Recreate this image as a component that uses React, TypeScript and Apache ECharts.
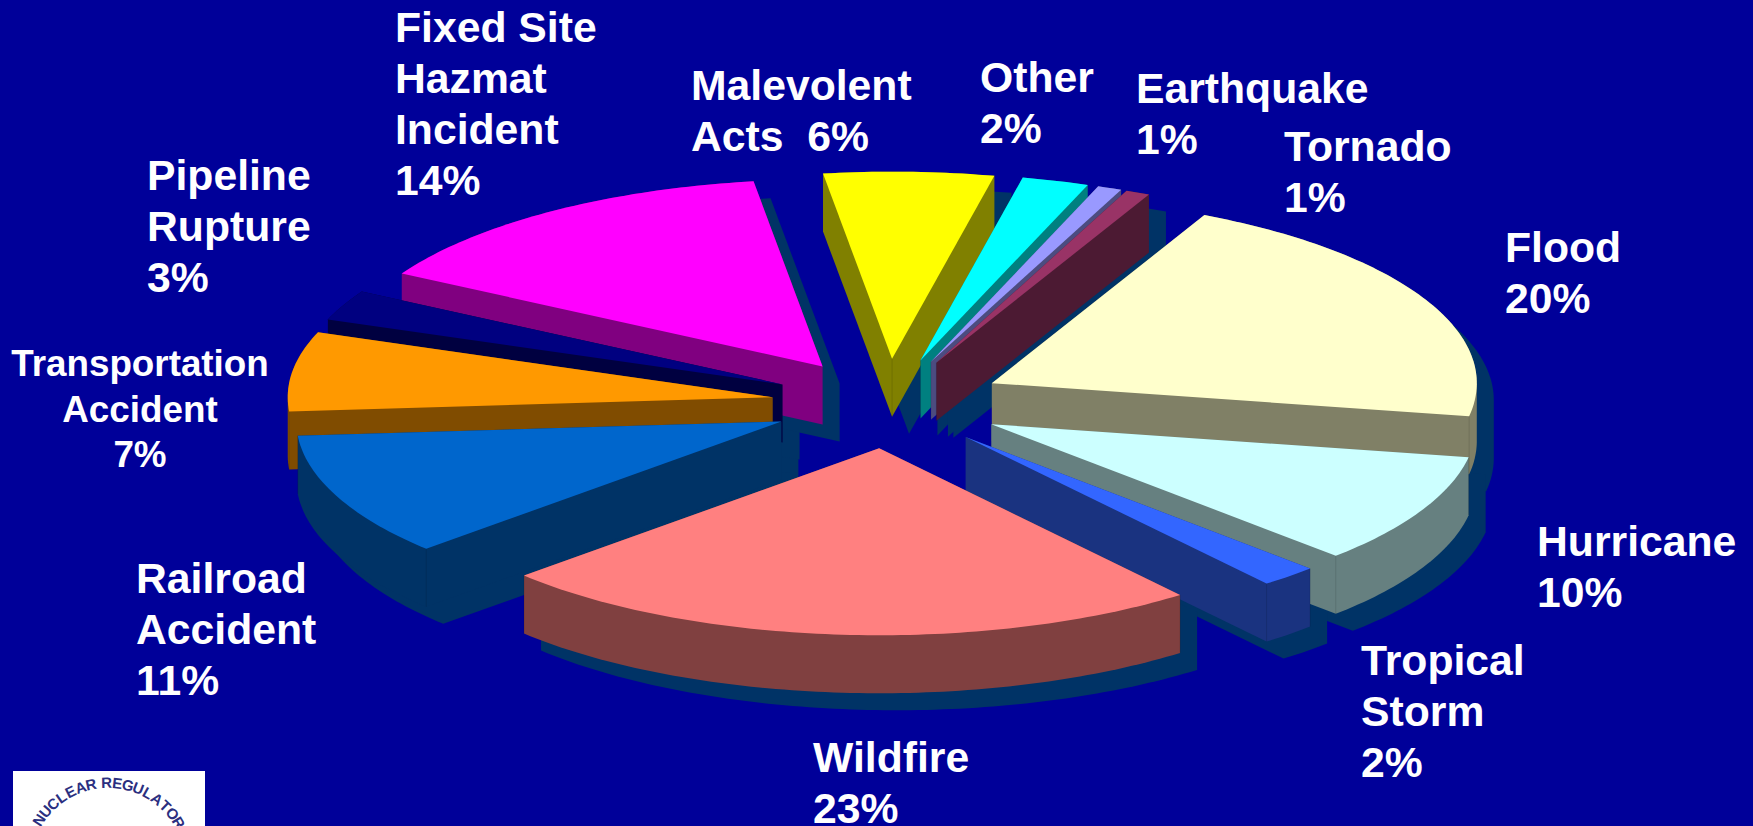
import React, { useEffect, useRef } from "react";
import * as echarts from "echarts";

const CATEGORY_LINES = [
  "Flood",
  "Hurricane",
  "Tropical\nStorm",
  "Wildfire",
  "Railroad\nAccident",
  "Transportation\nAccident",
  "Pipeline\nRupture",
  "Fixed Site\nHazmat\nIncident",
  "Malevolent\nActs ",
  "Other",
  "Earthquake",
  "Tornado",
];
// Slice sizes estimated from the drawn angles; each rounds to its printed percentage.
const VALUES = [20.4, 9.5, 1.9, 23.49, 10.6, 6.8, 2.6, 14.3, 5.6, 2.2, 0.8, 0.8];
const TOP_COLORS = ["#FFFFCC", "#CCFFFF", "#3366FF", "#FF8080", "#0066CC", "#FF9900", "#000080", "#FF00FF", "#FFFF00", "#00FFFF", "#9999FF", "#993366"];
const SIDE_COLORS = ["#808066", "#668080", "#1A3380", "#804040", "#003366", "#804C00", "#000040", "#800080", "#808000", "#008080", "#4C4C80", "#4C1A33"];
const LABEL_LEFT = [1505, 1537, 1361, 813, 136, 140, 147, 395, 691, 980, 1136, 1284];
const LABEL_TOP = [221, 515, 634, 731, 552, 341, 149, 1, 59, 51, 62, 120];
const LOGO_TEXT = "NUCLEAR REGULATOR";

const BG = "#000099";
const SHADOW = "#003366";
const CX = 888, CY = 403.5, RX = 485, RY = 187, DEPTH = 58, EXPLODE = 0.24, START = 26;
const SHADOW_DX = 17, SHADOW_DY = 17;
const FONT = '"Liberation Sans", Arial, sans-serif';

type P = [number, number];
const total = VALUES.reduce((a, b) => a + b, 0);

function sliceInfo(i: number) {
  let acc = 0;
  for (let k = 0; k < i; k++) acc += VALUES[k];
  const a0 = START + (acc / total) * 360;
  const a1 = a0 + (VALUES[i] / total) * 360;
  return { a0, a1, mid: (a0 + a1) / 2 };
}
const rad = (d: number) => (d * Math.PI) / 180;

function topFace(i: number): P[] {
  const { a0, a1, mid } = sliceInfo(i);
  const ox = CX + Math.sin(rad(mid)) * RX * EXPLODE;
  const oy = CY - Math.cos(rad(mid)) * RY * EXPLODE;
  const pts: P[] = [[ox, oy]];
  const n = Math.max(2, Math.ceil(a1 - a0));
  for (let k = 0; k <= n; k++) {
    const t = rad(a0 + ((a1 - a0) * k) / n);
    pts.push([ox + Math.sin(t) * RX, oy - Math.cos(t) * RY]);
  }
  return pts;
}

function hull(points: P[]): P[] {
  const s = [...points].sort((a, b) => a[0] - b[0] || a[1] - b[1]);
  const cross = (o: P, a: P, b: P) => (a[0] - o[0]) * (b[1] - o[1]) - (a[1] - o[1]) * (b[0] - o[0]);
  const lo: P[] = [];
  for (const p of s) {
    while (lo.length >= 2 && cross(lo[lo.length - 2], lo[lo.length - 1], p) <= 0) lo.pop();
    lo.push(p);
  }
  const up: P[] = [];
  for (const p of s.slice().reverse()) {
    while (up.length >= 2 && cross(up[up.length - 2], up[up.length - 1], p) <= 0) up.pop();
    up.push(p);
  }
  return lo.slice(0, -1).concat(up.slice(0, -1));
}

function solid(i: number, dx = 0, dy = 0): P[] {
  const top = topFace(i);
  const all = top.concat(top.map((p) => [p[0], p[1] + DEPTH] as P));
  return hull(all).map((p) => [p[0] + dx, p[1] + dy] as P);
}

// back-to-front drawing order, from each slice's direction
const drawOrder = VALUES.map((_, i) => i).sort(
  (a, b) => Math.cos(rad(sliceInfo(b).mid)) - Math.cos(rad(sliceInfo(a).mid))
);

export default function App() {
  const ref = useRef<HTMLDivElement>(null);
  useEffect(() => {
    document.body.style.margin = "0";
    const chart = echarts.init(ref.current!, undefined, { renderer: "svg" });
    const labels = VALUES.map((v, i) => {
      const small = i === 5;
      const pct = `${Math.round(v)}%`;
      return {
        type: "text",
        x: LABEL_LEFT[i],
        y: LABEL_TOP[i],
        z: 10,
        silent: true,
        style: {
          text: CATEGORY_LINES[i].endsWith(" ") ? `${CATEGORY_LINES[i]} ${pct}` : `${CATEGORY_LINES[i]}\n${pct}`,
          fill: "#FFFFFF",
          fontWeight: "bold",
          fontSize: small ? 36.8 : 42.7,
          fontFamily: FONT,
          lineHeight: small ? 45.5 : 51,
          align: small ? "center" : "left",
          verticalAlign: "top",
        },
      };
    });
    const LOGO_R = 82.5, LOGO_X = 108, LOGO_Y = 865;
    const logoSteps = LOGO_TEXT.split("").map((ch) => (ch === " " ? 3.5 : 7.5));
    const logoSpan = logoSteps.reduce((a, b) => a + b, 0);
    let logoAcc = -logoSpan / 2 + 1;
    const logoLetters = LOGO_TEXT.split("").map((ch, k) => {
      const deg = logoAcc + logoSteps[k] / 2;
      logoAcc += logoSteps[k];
      return {
        type: "text",
        x: LOGO_X + Math.sin(rad(deg)) * LOGO_R,
        y: LOGO_Y - Math.cos(rad(deg)) * LOGO_R,
        rotation: -rad(deg),
        z: 11,
        silent: true,
        style: {
          text: ch,
          fill: "#2B2F80",
          fontWeight: "bold",
          fontSize: 15,
          fontFamily: FONT,
          align: "center",
          verticalAlign: "middle",
        },
      };
    });
    chart.setOption({
      animation: false,
      backgroundColor: BG,
      series: [
        {
          type: "custom",
          coordinateSystem: "none",
          silent: true,
          z: 1,
          data: VALUES.map((v, i) => [v, i]),
          renderItem: (_p: any, api: any) => ({
            type: "polygon",
            shape: { points: solid(api.value(1), SHADOW_DX, SHADOW_DY) },
            style: { fill: SHADOW },
          }),
        },
        {
          type: "custom",
          coordinateSystem: "none",
          silent: true,
          z: 2,
          data: drawOrder.map((i) => [VALUES[i], i]),
          renderItem: (_p: any, api: any) => {
            const i = api.value(1);
            const top = topFace(i);
            const { a0, a1, mid } = sliceInfo(i);
            const corners: P[] = [];
            if (Math.cos(rad(mid)) > 0.9) corners.push(top[0]);
            if (Math.cos(rad(a0)) < 0) corners.push(top[1]);
            if (Math.cos(rad(a1)) < 0) corners.push(top[top.length - 1]);
            return {
              type: "group",
              children: [
                { type: "polygon", shape: { points: solid(i) }, style: { fill: SIDE_COLORS[i] } },
                ...corners.map((c) => ({
                  type: "line",
                  shape: { x1: c[0], y1: c[1], x2: c[0], y2: c[1] + DEPTH },
                  style: { stroke: "#000000", opacity: 0.12, lineWidth: 1 },
                })),
                { type: "polygon", shape: { points: top }, style: { fill: TOP_COLORS[i] } },
              ],
            };
          },
        },
      ],
      graphic: [
        ...labels,
        { type: "rect", shape: { x: 13, y: 771, width: 192, height: 60 }, style: { fill: "#FFFFFF" }, z: 10, silent: true },
        ...logoLetters,
      ],
    });
    return () => chart.dispose();
  }, []);
  return <div ref={ref} style={{ position: "fixed", left: 0, top: 0, width: 1753, height: 826 }} />;
}
